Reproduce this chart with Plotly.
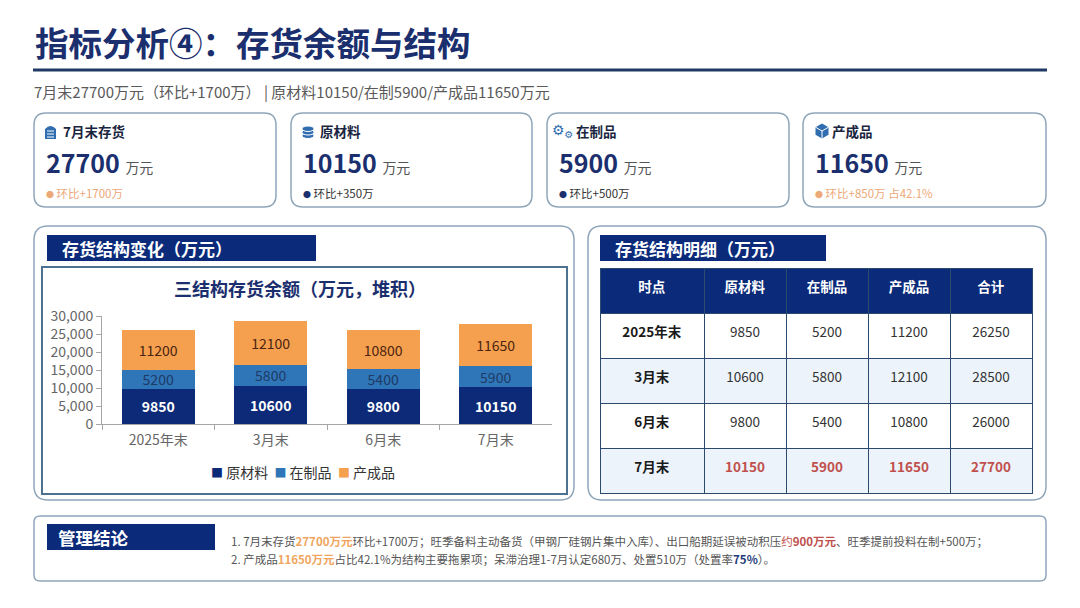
import plotly.graph_objects as go

W, H = 1080, 608
FONT = "Noto Sans CJK SC"

# ---------------- data ----------------
periods = ["2025年末", "3月末", "6月末", "7月末"]
raw_material = [9850, 10600, 9800, 10150]
wip = [5200, 5800, 5400, 5900]
finished = [11200, 12100, 10800, 11650]
totals = [26250, 28500, 26000, 27700]
series_names = ["原材料", "在制品", "产成品"]
table_headers = ["时点", "原材料", "在制品", "产成品", "合计"]
y_ticks = [0, 5000, 10000, 15000, 20000, 25000, 30000]

kpi_labels = ["7月末存货", "原材料", "在制品", "产成品"]
kpi_values = [27700, 10150, 5900, 11650]
kpi_notes = ["环比+1700万", "环比+350万", "环比+500万", "环比+850万 占42.1%"]

title_text = "指标分析④：存货余额与结构"
subtitle_text = "7月末27700万元（环比+1700万） | 原材料10150/在制5900/产成品11650万元"
chart_title = "三结构存货余额（万元，堆积）"
left_header = "存货结构变化（万元）"
right_header = "存货结构明细（万元）"
concl_header = "管理结论"
conclusion_lines = [
    "1. 7月末存货<b><span style='color:#f0a55e'>27700万元</span></b>环比+1700万；旺季备料主动备货（甲钢厂硅钢片集中入库）、"
    "出口船期延误被动积压<span style='color:#c0504d'>约<b>900万元</b></span>、旺季提前投料在制+500万；",
    "2. 产成品<b><span style='color:#f0a55e'>11650万元</span></b>占比42.1%为结构主要拖累项；呆滞治理1-7月认定680万、"
    "处置510万（处置率<b><span style='color:#1f3a7a'>75%</span></b>）。",
]

# ---------------- styles ----------------
NAVY = "#0b2a7a"
BAR_COLORS = ["#0c2a78", "#2f76b8", "#f5a04f"]
BAR_TEXT = ["#ffffff", "#1e3a66", "#4a2410"]
TITLE_C = "#1b2f6e"
BORDER = "#8fa6bb"
GRID = "#2c4a6e"
note_colors = ["#eda878", "#333333", "#333333", "#eda878"]
dot_colors = ["#eda878", "#1b2f6e", "#1b2f6e", "#eda878"]


def X(x):
    return x / W


def Y(y):
    return 1 - y / H


def rrect(x0, y0, x1, y1, r, line, width, fill="white"):
    p = (f"M{X(x0 + r)},{Y(y0)} L{X(x1 - r)},{Y(y0)} Q{X(x1)},{Y(y0)} {X(x1)},{Y(y0 + r)} "
         f"L{X(x1)},{Y(y1 - r)} Q{X(x1)},{Y(y1)} {X(x1 - r)},{Y(y1)} "
         f"L{X(x0 + r)},{Y(y1)} Q{X(x0)},{Y(y1)} {X(x0)},{Y(y1 - r)} "
         f"L{X(x0)},{Y(y0 + r)} Q{X(x0)},{Y(y0)} {X(x0 + r)},{Y(y0)} Z")
    return dict(type="path", path=p, xref="paper", yref="paper",
                line=dict(color=line, width=width), fillcolor=fill, layer="below")


def rect(x0, y0, x1, y1, fill, line=None, width=0):
    return dict(type="rect", xref="paper", yref="paper", x0=X(x0), x1=X(x1), y0=Y(y1), y1=Y(y0),
                fillcolor=fill, line=dict(color=line or fill, width=width), layer="below")


def text(x, y, s, size, color, xanchor="left", bold=False):
    return dict(x=X(x), y=Y(y), xref="paper", yref="paper", text=f"<b>{s}</b>" if bold else s,
                showarrow=False, xanchor=xanchor, yanchor="middle",
                font=dict(family=FONT, size=size, color=color))


fig = go.Figure()

# ---------------- stacked bars ----------------
for vals, name, col, tcol in zip([raw_material, wip, finished], series_names, BAR_COLORS, BAR_TEXT):
    fig.add_trace(go.Bar(
        x=periods, y=vals, name=name, marker=dict(color=col, line=dict(width=0)),
        text=[f"<b>{v}</b>" if name == series_names[0] else str(v) for v in vals],
        textposition="inside", insidetextanchor="middle", textangle=0,
        textfont=dict(family=FONT, size=14, color=tcol), hoverinfo="skip", showlegend=False,
    ))

# ---------------- table ----------------
n = len(periods)
def fmt(v, i):
    return f"<b>{v}</b>" if i == n - 1 else f"<span>{v}</span>"

cell_vals = [[f"<b>{p}</b>" for p in periods]] + [
    [fmt(v, i) for i, v in enumerate(col)] for col in [raw_material, wip, finished, totals]
]
row_fill = ["#ffffff" if i % 2 == 0 else "#edf3fa" for i in range(n)]
font_cols = [["#1a1a1a"] * n] + [["#333333"] * (n - 1) + ["#c0504d"]] * 4

fig.add_trace(go.Table(
    domain=dict(x=[X(600), X(1032)], y=[Y(494), Y(268)]),
    columnwidth=[104, 82, 82, 82, 82],
    header=dict(values=[f"<b>{h}</b>" for h in table_headers], fill_color=NAVY,
                font=dict(family=FONT, size=13.5, color="white"), align="center", height=45,
                line=dict(color=GRID, width=1)),
    cells=dict(values=cell_vals, fill_color=[row_fill] * 5,
               font=dict(family=FONT, size=13.5, color=font_cols), align="center", height=45,
               line=dict(color=GRID, width=1)),
))

# ---------------- shapes ----------------
shapes = []
shapes.append(dict(type="line", xref="paper", yref="paper", x0=X(33), x1=X(1047), y0=Y(70), y1=Y(70),
                   line=dict(color="#1f3864", width=3)))
cards = [(34, 276), (291, 532), (547, 789), (803, 1046)]
for (a, b) in cards:
    shapes.append(rrect(a, 113, b, 207, 12, BORDER, 1.5))
shapes.append(rrect(34, 226, 574, 500, 14, BORDER, 1.5))
shapes.append(rrect(588, 226, 1046, 500, 14, BORDER, 1.5))
shapes.append(rrect(34, 516, 1046, 581, 6, BORDER, 1.5))
shapes.append(rect(42, 267, 567, 494, "rgba(0,0,0,0)", "#4d7291", 2))
shapes.append(rect(47, 235, 316, 261, NAVY))
shapes.append(rect(600, 235, 826, 261, NAVY))
shapes.append(rect(47, 524, 215, 550, NAVY))

ICON = "#2f6db0"
# icon 1: warehouse
shapes.append(dict(type="path", xref="paper", yref="paper", fillcolor=ICON, line=dict(width=0),
                   path=f"M{X(45)},{Y(139)} L{X(45)},{Y(129)} Q{X(50.5)},{Y(123)} {X(56)},{Y(129)} L{X(56)},{Y(139)} Z"))
for yy in (131, 134, 137):
    shapes.append(dict(type="line", xref="paper", yref="paper", x0=X(47), x1=X(54), y0=Y(yy), y1=Y(yy),
                       line=dict(color="white", width=1)))
# icon 2: coins
for yy in (133, 129.5, 126):
    shapes.append(dict(type="circle", xref="paper", yref="paper", x0=X(302), x1=X(314), y0=Y(yy + 5.5), y1=Y(yy),
                       fillcolor=ICON, line=dict(color="white", width=1)))
# icon 4: cube
cx, cy = 822, 131
shapes.append(dict(type="path", xref="paper", yref="paper", fillcolor=ICON, line=dict(width=0),
                   path=(f"M{X(cx)},{Y(cy - 7.5)} L{X(cx + 6.5)},{Y(cy - 3.8)} L{X(cx + 6.5)},{Y(cy + 3.8)} "
                         f"L{X(cx)},{Y(cy + 7.5)} L{X(cx - 6.5)},{Y(cy + 3.8)} L{X(cx - 6.5)},{Y(cy - 3.8)} Z")))
shapes.append(dict(type="path", xref="paper", yref="paper", line=dict(color="white", width=1),
                   path=f"M{X(cx - 6.5)},{Y(cy - 3.8)} L{X(cx)},{Y(cy)} L{X(cx + 6.5)},{Y(cy - 3.8)} M{X(cx)},{Y(cy)} L{X(cx)},{Y(cy + 7.5)}"))

# ---------------- annotations ----------------
ann = []
ann.append(text(33, 42, title_text, 33.5, TITLE_C, bold=True))
ann.append(text(32, 91, subtitle_text, 15, "#595959"))
for i, (a, b) in enumerate(cards):
    ann.append(text(a + 27, 131, kpi_labels[i], 13.5, "#1a2540", bold=True))
    ann.append(text(a + 10, 162,
                    f"<b>{kpi_values[i]}</b> <span style='font-size:14px;color:#555555'>万元</span>",
                    25, TITLE_C))
    ann.append(text(a + 10, 193,
                    f"<span style='color:{dot_colors[i]};font-size:8px'>●</span> {kpi_notes[i]}", 11.5,
                    note_colors[i]))
ann.append(dict(x=X(562), y=Y(131), xref="paper", yref="paper", xanchor="center", yanchor="middle",
                text="⚙<sub>⚙</sub>", showarrow=False,
                font=dict(family="DejaVu Sans", size=14, color=ICON)))
ann.append(text(60, 248, left_header, 17, "white", bold=True))
ann.append(text(613, 248, right_header, 17, "white", bold=True))
ann.append(text(300, 288, chart_title, 18, TITLE_C, xanchor="center", bold=True))
ann.append(text(56, 537, concl_header, 17.5, "white", bold=True))
ann.append(text(229, 541, conclusion_lines[0], 11.5, "#555555"))
ann.append(text(229, 559, conclusion_lines[1], 11.5, "#555555"))
# legend for the stacked bars (built from the series names and colours)
legend_txt = "  ".join(f"<span style='color:{c};font-size:12px'>■</span> {nm}"
                       for nm, c in zip(series_names, BAR_COLORS))
ann.append(text(303, 472, legend_txt, 14, "#333333", xanchor="center"))

fig.update_layout(
    template="none",
    width=W, height=H, autosize=False,
    margin=dict(l=0, r=0, t=0, b=0, pad=0, autoexpand=False),
    paper_bgcolor="white", plot_bgcolor="rgba(0,0,0,0)",
    font=dict(family=FONT, color="#333333"),
    barmode="stack", bargap=0.35,
    uniformtext=dict(minsize=13.5, mode="show"),
    xaxis=dict(domain=[X(102), X(552)], showline=True, linecolor="#a6a6a6", linewidth=1,
               ticks="outside", tickson="boundaries", ticklen=5, tickcolor="#a6a6a6",
               ticklabelstandoff=3,
               tickfont=dict(family=FONT, size=14, color="#666666"), showgrid=False, fixedrange=True,
               automargin=False),
    yaxis=dict(domain=[Y(424), Y(316)], range=[0, 30000], tickvals=y_ticks, tickformat=",",
               showline=True, linecolor="#a6a6a6", linewidth=1, ticks="outside", ticklen=5,
               tickcolor="#a6a6a6", tickfont=dict(family=FONT, size=14, color="#666666"),
               showgrid=False, zeroline=False, fixedrange=True, automargin=False),
    shapes=shapes, annotations=ann, showlegend=False,
)

fig.write_html("out.html", config={"displayModeBar": False, "responsive": False},
               post_script="document.body.style.margin='0px';document.body.style.overflow='hidden';")
